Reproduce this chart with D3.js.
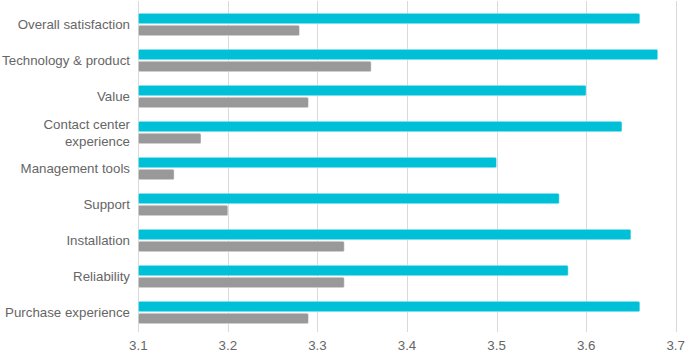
<!DOCTYPE html>
<html>
<head>
<meta charset="utf-8">
<script src="https://cdn.jsdelivr.net/npm/d3@7"></script>
<style>
  body { margin: 0; background: #fff; }
  text { font-family: "Liberation Sans", Arial, sans-serif; }
</style>
</head>
<body>
<svg id="Vis" width="690" height="363"></svg>
<script>
var categories = ["Overall satisfaction", "Technology & product", "Value", "Contact center experience",
                  "Management tools", "Support", "Installation", "Reliability", "Purchase experience"];
var seriesA = [3.66, 3.68, 3.60, 3.64, 3.50, 3.57, 3.65, 3.58, 3.66];
var seriesB = [3.28, 3.36, 3.29, 3.17, 3.14, 3.20, 3.33, 3.33, 3.29];
var tickValues = [3.1, 3.2, 3.3, 3.4, 3.5, 3.6, 3.7];

var svg = d3.select("#Vis");
var plotLeft = 138.3, plotRight = 675.7, plotTop = 6.5, plotBottom = 330.5;

var x = d3.scaleLinear().domain([3.1, 3.7]).range([plotLeft, plotRight]);
var y = d3.scaleBand().domain(categories).range([plotTop, plotBottom]);
var barH = 10.5;

// gridlines
svg.append("g").selectAll("line")
   .data(tickValues)
   .enter().append("line")
   .attr("x1", function(d){ return Math.round(x(d)) + 0.5; })
   .attr("x2", function(d){ return Math.round(x(d)) + 0.5; })
   .attr("y1", 1)
   .attr("y2", 332)
   .attr("stroke", "#d9d9d9")
   .attr("stroke-width", 1);

// tick labels
svg.append("g").selectAll("text")
   .data(tickValues)
   .enter().append("text")
   .attr("x", function(d){ return x(d); })
   .attr("y", 350)
   .attr("text-anchor", "middle")
   .attr("font-size", 13.3)
   .attr("fill", "#666666")
   .text(function(d){ return d3.format(".1f")(d); });

// bars
function drawBars(values, color, offset){
  svg.append("g").selectAll("rect")
     .data(values)
     .enter().append("rect")
     .attr("x", x(3.1))
     .attr("y", function(d,i){ return y(categories[i]) + y.bandwidth()/2 + offset; })
     .attr("width", function(d){ return x(d) - x(3.1); })
     .attr("height", barH)
     .attr("rx", 1.5)
     .attr("fill", color)
     .attr("stroke", "#ffffff")
     .attr("stroke-opacity", 0.6)
     .attr("stroke-width", 0.75);
}
drawBars(seriesA, "#00c0d8", -barH - 0.7);
drawBars(seriesB, "#999999", 0.7);

// category labels
var labels = svg.append("g").selectAll("text")
   .data(categories)
   .enter().append("text")
   .attr("x", 130)
   .attr("y", function(d){ return y(d) + y.bandwidth()/2 + 4.5; })
   .attr("text-anchor", "end")
   .attr("font-size", 13.3)
   .attr("fill", "#666666");

labels.each(function(d){
  var t = d3.select(this);
  if (d == "Contact center experience") {
    t.append("tspan").attr("x", 130).attr("dy", -8.5).text("Contact center");
    t.append("tspan").attr("x", 130).attr("dy", 17).text("experience");
  } else {
    t.text(d);
  }
});
</script>
</body>
</html>
